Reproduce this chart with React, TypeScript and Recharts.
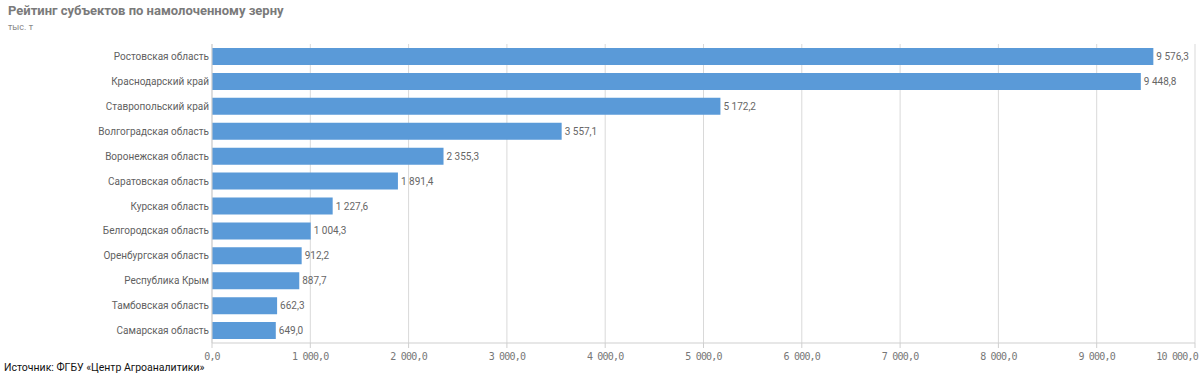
import React from "react";
import { BarChart, Bar, XAxis, YAxis, CartesianGrid, LabelList } from "recharts";

const regions = [
  "Ростовская область",
  "Краснодарский край",
  "Ставропольский край",
  "Волгоградская область",
  "Воронежская область",
  "Саратовская область",
  "Курская область",
  "Белгородская область",
  "Оренбургская область",
  "Республика Крым",
  "Тамбовская область",
  "Самарская область",
];
const values = [9576.3, 9448.8, 5172.2, 3557.1, 2355.3, 1891.4, 1227.6, 1004.3, 912.2, 887.7, 662.3, 649.0];
const xTicks = [0, 1000, 2000, 3000, 4000, 5000, 6000, 7000, 8000, 9000, 10000];

const data = regions.map((name, i) => ({ name, value: values[i] }));

const fmt = (v: number) => {
  const [intPart, dec] = Number(v).toFixed(1).split(".");
  const withSpaces = intPart.replace(/\B(?=(\d{3})+(?!\d))/g, " ");
  return `${withSpaces},${dec}`;
};

const XTick = (props: any) => {
  const { x, y, payload } = props;
  const last = payload.value === xTicks[xTicks.length - 1];
  return (
    <text
      x={last ? x + 3 : x}
      y={y + 10}
      textAnchor={last ? "end" : "middle"}
      fontSize={10}
      fill="#777"
      fontFamily="'DejaVu Sans Mono', monospace"
      letterSpacing={-0.8}
    >
      {fmt(payload.value)}
    </text>
  );
};

const ValueLabel = (props: any) => {
  const { x, y, width, height, value } = props;
  return (
    <text x={x + width + 3} y={y + height / 2} dy={3.5} fontSize={10} fill="#666" textAnchor="start">
      {fmt(value)}
    </text>
  );
};

export default function App() {
  return (
    <div style={{ position: "absolute", left: 0, top: 0, width: 1200, height: 378, background: "#fff", fontFamily: "Roboto, sans-serif" }}>
      <div style={{ position: "absolute", left: 8, top: 3, fontSize: 13, fontWeight: 700, color: "#7a7a7a" }}>
        Рейтинг субъектов по намолоченному зерну
      </div>
      <div style={{ position: "absolute", left: 8, top: 22, fontSize: 9, color: "#888" }}>тыс. т</div>
      <div style={{ position: "absolute", left: 4, top: 361, fontSize: 10.5, color: "#111" }}>
        Источник: ФГБУ «Центр Агроаналитики»
      </div>
      <div style={{ position: "absolute", left: 0, top: 0 }}>
        <BarChart
          width={1200}
          height={378}
          data={data}
          layout="vertical"
          margin={{ top: 44, right: 5, bottom: 0, left: 0 }}
          barSize={17}
        >
          <CartesianGrid horizontal={false} vertical={true} stroke="#d9d9d9" />
          <XAxis
            type="number"
            domain={[0, 10000]}
            ticks={xTicks}
            height={35}
            interval={0}
            stroke="#cfcfcf"
            tickSize={5}
            tick={<XTick />}
          />
          <YAxis
            type="category"
            dataKey="name"
            width={212}
            stroke="#cfcfcf"
            tickLine={false}
            tickSize={3}
            tickMargin={0}
            tick={{ fontSize: 10, fill: "#5f5f5f" }}
            interval={0}
          />
          <Bar dataKey="value" fill="#5a9ad8" isAnimationActive={false}>
            <LabelList dataKey="value" content={<ValueLabel />} />
          </Bar>
        </BarChart>
      </div>
    </div>
  );
}
